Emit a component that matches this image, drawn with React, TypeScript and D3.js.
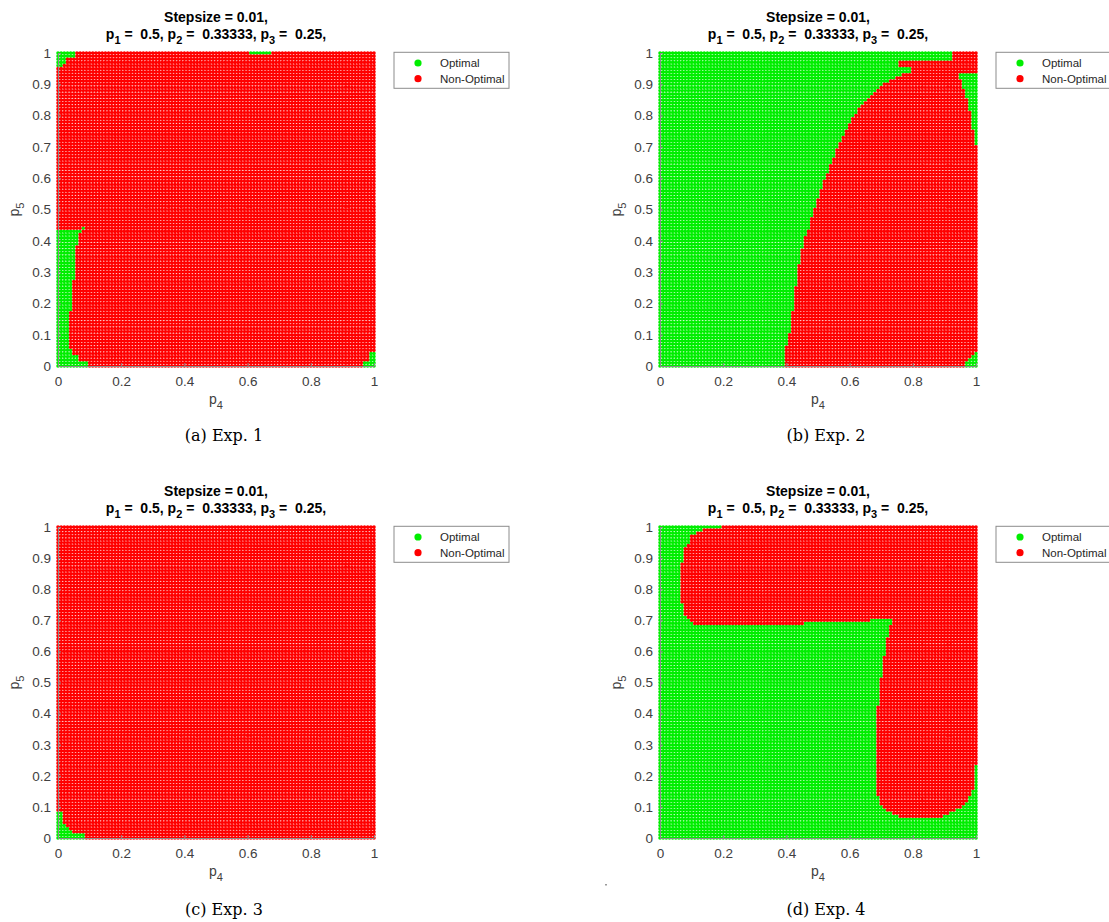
import React, { useEffect, useRef } from "react";
import * as d3 from "d3";

// grid of the experiments (stepsize 0.01 on both p4 and p5)
const stepSize = 0.01;
const p4Ticks = [0, 0.2, 0.4, 0.6, 0.8, 1];
const p5Ticks = [0, 0.1, 0.2, 0.3, 0.4, 0.5, 0.6, 0.7, 0.8, 0.9, 1];
const seriesNames = ["Optimal", "Non-Optimal"];
const captions = ["(a) Exp. 1", "(b) Exp. 2", "(c) Exp. 3", "(d) Exp. 4"];
const titleLine1 = "Stepsize = 0.01,";
const fixedIndex = ["1", "2", "3"];
const fixedValue = ["0.5", "0.33333", "0.25"];

// blocks of grid points: [p4 from, p4 to, p5 from, p5 to]
const exp1OptimalBlocks = [
  [0, 0.05, 0.99, 1],
  [0, 0.02, 0.97, 0.98],
  [0, 0.01, 0.96, 0.96],
  [0.61, 0.67, 1, 1],
  [0.08, 0.08, 0.44, 0.44],
  [0, 0.07, 0.43, 0.43],
  [0, 0.06, 0.39, 0.42],
  [0, 0.05, 0.28, 0.38],
  [0, 0.04, 0.18, 0.27],
  [0, 0.03, 0.06, 0.17],
  [0, 0.04, 0.04, 0.05],
  [0, 0.06, 0.02, 0.03],
  [0, 0.09, 0, 0.01],
  [0.97, 1, 0, 0.01],
  [0.99, 1, 0.02, 0.04],
];

// outline of the non-optimal area in Exp. 2, [p4, p5]
const exp2NonOptimalOutline = [
  [0.395, -0.01], [0.395, 0.055], [0.405, 0.065], [0.405, 0.105],
  [0.415, 0.115], [0.415, 0.165], [0.425, 0.175], [0.425, 0.245],
  [0.435, 0.255], [0.435, 0.3], [0.445, 0.35], [0.46, 0.41],
  [0.48, 0.47], [0.5, 0.53], [0.52, 0.59], [0.54, 0.64],
  [0.56, 0.69], [0.585, 0.745], [0.605, 0.785], [0.635, 0.83],
  [0.665, 0.86], [0.695, 0.89], [0.73, 0.915], [0.775, 0.935],
  [0.945, 0.935], [0.945, 0.925], [0.955, 0.9], [0.965, 0.87],
  [0.975, 0.84], [0.985, 0.79], [0.995, 0.72], [0.995, 0.705],
  [1.01, 0.705], [1.01, 0.045], [0.995, 0.045], [0.985, 0.025],
  [0.965, 0.015], [0.965, -0.01],
];
const exp2NonOptimalBlocks = [
  [0.76, 1, 0.96, 0.97],
  [0.93, 1, 0.94, 1],
  [0.8, 0.93, 0.94, 0.95],
];

const exp3OptimalBlocks = [
  [0, 0.01, 0.05, 0.08],
  [0, 0.02, 0.04, 0.04],
  [0, 0.03, 0.03, 0.03],
  [0, 0.04, 0.02, 0.02],
  [0, 0.08, 0, 0.01],
];

const exp4NonOptimalOutline = [
  [0.195, 1.01], [1.01, 1.01], [1.01, 0.235], [0.995, 0.235],
  [0.995, 0.16], [0.985, 0.14], [0.975, 0.12], [0.96, 0.105],
  [0.94, 0.09], [0.9, 0.075], [0.895, 0.065], [0.755, 0.065],
  [0.755, 0.075], [0.725, 0.085], [0.705, 0.1], [0.695, 0.12],
  [0.685, 0.145], [0.685, 0.425], [0.695, 0.425], [0.695, 0.515],
  [0.705, 0.515], [0.705, 0.585], [0.715, 0.585], [0.715, 0.645],
  [0.725, 0.645], [0.725, 0.685], [0.735, 0.685], [0.735, 0.705],
  [0.665, 0.705], [0.665, 0.695], [0.455, 0.695], [0.455, 0.685],
  [0.105, 0.685], [0.105, 0.695], [0.085, 0.705], [0.08, 0.72],
  [0.075, 0.75], [0.065, 0.755], [0.065, 0.885], [0.075, 0.89],
  [0.075, 0.935], [0.095, 0.95], [0.095, 0.965], [0.105, 0.975],
  [0.135, 0.985], [0.135, 0.995], [0.195, 0.995],
];

const GREEN = "#00ee00";
const RED = "#ff0000";
const FONT = "'Liberation Sans', Arial, Helvetica, sans-serif";

const blockToPolygon = (b) => {
  const h = stepSize / 2;
  return [
    [b[0] - h, b[2] - h],
    [b[1] + h, b[2] - h],
    [b[1] + h, b[3] + h],
    [b[0] - h, b[3] + h],
  ];
};

// base = class of every point outside the shapes (0 optimal, 1 non-optimal)
const panels = [
  { left: 58, top: 53, height: 313, base: 1, shapes: exp1OptimalBlocks.map(blockToPolygon) },
  {
    left: 660, top: 53, height: 313, base: 0,
    shapes: [exp2NonOptimalOutline, ...exp2NonOptimalBlocks.map(blockToPolygon)],
  },
  { left: 58, top: 527, height: 311, base: 1, shapes: exp3OptimalBlocks.map(blockToPolygon) },
  { left: 660, top: 527, height: 311, base: 0, shapes: [exp4NonOptimalOutline] },
];
const captionPos = [
  [224, 441],
  [826, 441],
  [224, 915],
  [826, 915],
];

export default function App() {
  const ref = useRef(null);

  useEffect(() => {
    const svg = d3.select(ref.current);
    svg.selectAll("*").remove();

    const width = 316;
    const n = Math.round(1 / stepSize);
    const grid = d3.range(0, n + 1).map((i) => i / n);

    panels.forEach((panel, k) => {
      const x = d3.scaleLinear().domain([0, 1]).range([0, width]);
      const y = d3.scaleLinear().domain([0, 1]).range([panel.height, 0]);
      const g = svg
        .append("g")
        .attr("transform", `translate(${panel.left},${panel.top})`);

      const paths = [d3.path(), d3.path()];
      const r = 1.8;
      grid.forEach((p4) => {
        grid.forEach((p5) => {
          const inside = panel.shapes.some((s) => d3.polygonContains(s, [p4, p5]));
          const cls = inside ? 1 - panel.base : panel.base;
          const cx = x(p4);
          const cy = y(p5);
          paths[cls].moveTo(cx + r, cy);
          paths[cls].arc(cx, cy, r, 0, 2 * Math.PI);
        });
      });
      g.append("path").attr("d", paths[0].toString()).attr("fill", GREEN);
      g.append("path").attr("d", paths[1].toString()).attr("fill", RED);

      const yAxis = g
        .append("g")
        .call(
          d3.axisLeft(y).tickValues(p5Ticks).tickSizeInner(-3).tickSizeOuter(0).tickPadding(7)
            .tickFormat((d) => String(d))
        );
      const xAxis = g
        .append("g")
        .attr("transform", `translate(0,${panel.height})`)
        .call(
          d3.axisBottom(x).tickValues(p4Ticks).tickSizeInner(-3).tickSizeOuter(0).tickPadding(10)
            .tickFormat((d) => String(d))
        );
      [yAxis, xAxis].forEach((a) => {
        a.attr("font-size", null).attr("font-family", null);
        a.select(".domain").attr("stroke", "#8a8a8a");
        a.selectAll(".tick line").attr("stroke", "#8a8a8a");
        a.selectAll("text")
          .attr("fill", "#404040")
          .style("font-family", FONT)
          .style("font-size", "13.5px");
      });

      // titles
      g.append("text")
        .attr("x", width / 2)
        .attr("y", -31)
        .attr("text-anchor", "middle")
        .style("font-family", FONT)
        .style("font-size", "14px")
        .style("font-weight", "bold")
        .text(titleLine1);
      const t2 = g
        .append("text")
        .attr("x", width / 2)
        .attr("y", -14)
        .attr("text-anchor", "middle")
        .style("font-family", FONT)
        .style("font-size", "14px")
        .style("font-weight", "bold")
        .style("white-space", "pre");
      fixedIndex.forEach((idx, i) => {
        t2.append("tspan").text(i === 0 ? "p" : ", p");
        t2.append("tspan").attr("dy", 5).style("font-size", "11px").text(idx);
        t2.append("tspan").attr("dy", -5).text(" =  " + fixedValue[i] + (i === fixedIndex.length - 1 ? "," : ""));
      });

      // axis labels
      const xl = g
        .append("text")
        .attr("x", width / 2)
        .attr("y", panel.height + 38)
        .attr("text-anchor", "middle")
        .attr("fill", "#404040")
        .style("font-family", FONT)
        .style("font-size", "14px");
      xl.append("tspan").text("p");
      xl.append("tspan").attr("dy", 5).style("font-size", "11px").text("4");

      const yl = g
        .append("text")
        .attr("transform", `translate(-39,${panel.height / 2}) rotate(-90)`)
        .attr("text-anchor", "middle")
        .attr("fill", "#404040")
        .style("font-family", FONT)
        .style("font-size", "14px");
      yl.append("tspan").text("p");
      yl.append("tspan").attr("dy", 5).style("font-size", "11px").text("5");

      // legend
      const lg = g.append("g").attr("transform", `translate(${width + 20},-0.7)`);
      lg.append("rect")
        .attr("width", 115)
        .attr("height", 36)
        .attr("fill", "white")
        .attr("stroke", "#8c8c8c");
      seriesNames.forEach((name, i) => {
        lg.append("circle")
          .attr("cx", 24)
          .attr("cy", 10.7 + i * 15.7)
          .attr("r", 3.6)
          .attr("fill", i === 0 ? GREEN : RED);
        lg.append("text")
          .attr("x", 46)
          .attr("y", 14.6 + i * 15.8)
          .attr("fill", "#262626")
          .style("font-family", FONT)
          .style("font-size", "11.5px")
          .text(name);
      });

      svg
        .append("text")
        .attr("x", captionPos[k][0])
        .attr("y", captionPos[k][1])
        .attr("text-anchor", "middle")
        .style("font-family", "'DejaVu Serif', serif")
        .style("font-size", "16px")
        .text(captions[k]);
    });

    svg.append("rect").attr("x", 605).attr("y", 884).attr("width", 2).attr("height", 1.5).attr("fill", "#9a9a9a");
  }, []);

  return (
    <svg
      ref={ref}
      width={1109}
      height={922}
      style={{ position: "absolute", left: 0, top: 0, background: "white" }}
    />
  );
}
